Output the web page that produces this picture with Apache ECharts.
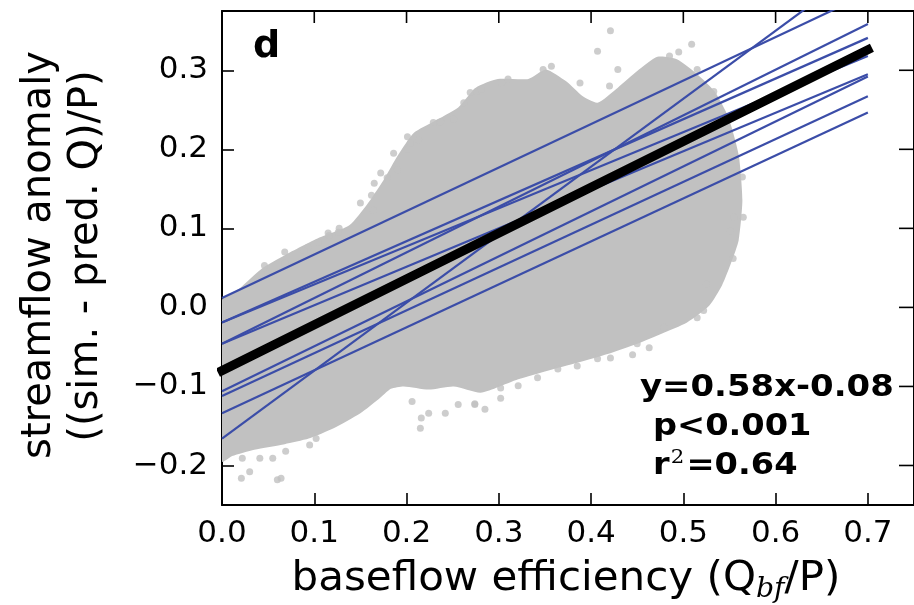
<!DOCTYPE html>
<html><head><meta charset="utf-8">
<script src="https://cdn.jsdelivr.net/npm/echarts@6/dist/echarts.min.js"></script>
<style>html,body{margin:0;padding:0;background:#fff;}#c{width:914px;height:605px;}</style>
</head><body><div id="c"></div>
<script>
// ---- data ----
const xTickValues = [0, 0.1, 0.2, 0.3, 0.4, 0.5, 0.6, 0.7];
const yTickValues = [-0.2, -0.1, 0.0, 0.1, 0.2, 0.3];
const xMin = 0, xMax = 0.75, yMin = -0.25, yMax = 0.375;

// outline of the dense grey point cloud (x, y in data units)
const cloudX = [0, 0.019, 0.043, 0.068, 0.105, 0.138, 0.157, 0.175, 0.191, 0.208, 0.229, 0.256, 0.275, 0.299, 0.332, 0.351, 0.373, 0.391, 0.407, 0.429, 0.450, 0.472, 0.493, 0.515, 0.534, 0.549, 0.560, 0.564, 0.560, 0.552, 0.542, 0.528, 0.504, 0.477, 0.450, 0.418, 0.385, 0.353, 0.321, 0.299, 0.280, 0.251, 0.224, 0.197, 0.183, 0.170, 0.150, 0.121, 0.094, 0.068, 0.035, 0.011, 0];
const cloudY = [0.009, 0.024, 0.049, 0.066, 0.088, 0.104, 0.130, 0.161, 0.193, 0.221, 0.235, 0.253, 0.278, 0.289, 0.289, 0.301, 0.286, 0.267, 0.259, 0.278, 0.299, 0.317, 0.314, 0.295, 0.273, 0.240, 0.193, 0.136, 0.085, 0.057, 0.028, 0.002, -0.019, -0.033, -0.046, -0.059, -0.070, -0.080, -0.091, -0.101, -0.108, -0.100, -0.104, -0.100, -0.103, -0.116, -0.134, -0.153, -0.166, -0.173, -0.180, -0.188, -0.195];

// individual grey points around the edge of the cloud
const dotX = [0.046,0.068,0.116,0.127,0.164,0.162,0.179,0.190,0.202,0.213,0.235,0.186,0.201,0.204,0.229,0.237,0.251,0.262,0.269,0.276,0.165,0.172,0.150,0.115,0.126,0.093,0.104,0.068,0.089,0.050,
  0.421,0.407,0.429,0.420,0.388,0.348,0.357,0.303,0.310,0.281,0.509,0.495,0.485,0.515,0.533,
  0.551,0.564,0.555,0.565,0.551,0.554,0.525,0.522,0.515,0.479,0.463,0.450,0.445,0.421,0.407,0.385,0.364,0.342,0.321,0.302,0.302,0.285,0.274,
  0.206,0.216,0.224,0.215,0.242,0.256,0.274,0.095,0.102,0.069,0.055,0.041,0.030,0.021,0.060,0.064,0.022];
const dotY = [0.053,0.070,0.091,0.100,0.123,0.142,0.164,0.174,0.200,0.212,0.234,0.195,0.216,0.208,0.234,0.235,0.238,0.259,0.272,0.273,0.157,0.170,0.132,0.094,0.095,0.076,0.082,0.056,0.072,0.043,
  0.350,0.324,0.301,0.280,0.284,0.301,0.305,0.284,0.289,0.276,0.333,0.323,0.318,0.301,0.273,
  0.170,0.165,0.114,0.114,0.097,0.062,0.030,-0.004,-0.013,-0.025,-0.051,-0.046,-0.060,-0.064,-0.065,-0.074,-0.078,-0.089,-0.099,-0.102,-0.115,-0.129,-0.122,
  -0.119,-0.140,-0.134,-0.153,-0.134,-0.123,-0.123,-0.174,-0.166,-0.182,-0.191,-0.191,-0.208,-0.216,-0.218,-0.216,-0.191];

// individual regressions (blue): value at x=0 and at x=0.7
const lineX = [0, 0.7];
const blueStartY = [0.012, -0.166, -0.046, -0.019, -0.106, -0.112, -0.134, -0.019, -0.046];
const blueEndY   = [0.397, 0.436, 0.3585, 0.341, 0.292, 0.267, 0.2465, 0.318, 0.295];

// overall fit (black): y = 0.58x - 0.08
const fitY = [-0.08, 0.326];

// ---- chart ----
const FONT = 'DejaVu Sans';
const chart = echarts.init(document.getElementById('c'), null, {renderer: 'canvas'});

function fmt(v) {
  const s = Math.abs(v).toFixed(1);
  return v < -1e-9 ? '\u2212' + s : s;
}

const series = [];
series.push({
  type: 'custom', xAxisIndex: 0, yAxisIndex: 0, silent: true, clip: true, z: 1,
  data: [[0, 0]],
  renderItem: function (params, api) {
    const pts = cloudX.map((x, i) => api.coord([x, cloudY[i]]));
    return {type: 'polygon', shape: {points: pts, smooth: 0.2}, style: {fill: '#c1c1c1'}};
  }
});
series.push({
  type: 'scatter', xAxisIndex: 0, yAxisIndex: 0, silent: true, z: 2,
  symbol: 'circle', symbolSize: 7,
  itemStyle: {color: '#c1c1c1'},
  data: dotX.map((x, i) => [x, dotY[i]])
});
blueStartY.forEach((y0, i) => {
  series.push({
    type: 'line', xAxisIndex: 0, yAxisIndex: 0, silent: true, z: 3,
    symbol: 'none', clip: true,
    lineStyle: {color: '#3b4da8', width: 2.2},
    data: [[lineX[0], y0], [lineX[1], blueEndY[i]]]
  });
});
series.push({
  type: 'line', xAxisIndex: 0, yAxisIndex: 0, silent: true, z: 4,
  symbol: 'none', clip: true,
  lineStyle: {color: '#000', width: 9, cap: 'square'},
  data: [[lineX[0], fitY[0]], [lineX[1], fitY[1]]]
});
// mirrored ticks on the top and right frame edges, placed through the axis scales
series.push({
  type: 'custom', xAxisIndex: 0, yAxisIndex: 0, silent: true, clip: false, z: 5,
  encode: {x: 0, y: 1},
  data: xTickValues.map(v => [v, yMax]),
  renderItem: function (params, api) {
    const p = api.coord([api.value(0), api.value(1)]);
    return {type: 'line', shape: {x1: p[0], y1: p[1], x2: p[0], y2: p[1] + 12}, style: {stroke: '#000', lineWidth: 1.6}};
  }
});
series.push({
  type: 'custom', xAxisIndex: 0, yAxisIndex: 0, silent: true, clip: false, z: 5,
  encode: {x: 0, y: 1},
  data: yTickValues.map(v => [xMax, v]),
  renderItem: function (params, api) {
    const p = api.coord([api.value(0), api.value(1)]);
    return {type: 'line', shape: {x1: p[0], y1: p[1], x2: p[0] - 15, y2: p[1]}, style: {stroke: '#000', lineWidth: 1.6}};
  }
});

const option = {
  animation: false,
  backgroundColor: '#fff',
  grid: {left: 222, top: 11, width: 696, height: 494, containLabel: false},
  xAxis: [{
    type: 'value', position: 'bottom', min: xMin, max: xMax, interval: 0.1,
    axisLine: {show: true, onZero: false, lineStyle: {color: '#000', width: 2}},
    axisTick: {show: true, inside: true, length: 12, lineStyle: {color: '#000', width: 1.6}},
    splitLine: {show: false},
    axisLabel: {fontFamily: FONT, fontSize: 31, color: '#000', margin: 13, showMaxLabel: false,
      formatter: v => fmt(v)}
  }, {
    type: 'value', position: 'top', min: xMin, max: xMax, interval: 0.1,
    axisLine: {show: true, onZero: false, lineStyle: {color: '#000', width: 2}},
    axisTick: {show: false}, splitLine: {show: false}, axisLabel: {show: false}
  }],
  yAxis: [{
    type: 'value', position: 'left', min: yMin, max: yMax, splitNumber: 6,
    axisLine: {show: true, onZero: false, lineStyle: {color: '#000', width: 2}},
    axisTick: {show: true, inside: true, length: 12, lineStyle: {color: '#000', width: 1.6}},
    splitLine: {show: false},
    axisLabel: {fontFamily: FONT, fontSize: 31, color: '#000', margin: 14,
      showMinLabel: false, showMaxLabel: false,
      formatter: v => (yTickValues.some(t => Math.abs(t - v) < 1e-6) ? fmt(v) : '')}
  }, {
    type: 'value', position: 'right', min: yMin, max: yMax, splitNumber: 6,
    axisLine: {show: true, onZero: false, lineStyle: {color: '#000', width: 2}},
    axisTick: {show: false}, splitLine: {show: false}, axisLabel: {show: false}
  }],
  series: series,
  graphic: [
    {type: 'text', z: 10, style: {text: 'd', x: 253, y: 47, font: 'bold 38px "DejaVu Sans"', fill: '#000', textAlign: 'left', textVerticalAlign: 'middle'}},
    {type: 'text', z: 10, x: 640, y: 388, scaleX: 1.13, style: {text: 'y=0.58x-0.08', x: 0, y: 0, font: 'bold 30px "DejaVu Sans"', fill: '#000', textAlign: 'left', textVerticalAlign: 'middle'}},
    {type: 'text', z: 10, x: 653, y: 427, scaleX: 1.12, style: {text: 'p<0.001', x: 0, y: 0, font: 'bold 30px "DejaVu Sans"', fill: '#000', textAlign: 'left', textVerticalAlign: 'middle'}},
    {type: 'text', z: 10, x: 653, y: 466, scaleX: 1.12, style: {
      text: '{m|r}{s|2}{m|=0.64}', x: 0, y: 0, textAlign: 'left', textVerticalAlign: 'middle',
      rich: {
        m: {fontFamily: FONT, fontWeight: 'bold', fontSize: 30, color: '#000', lineHeight: 34, verticalAlign: 'middle'},
        s: {fontFamily: 'DejaVu Serif', fontSize: 19, color: '#000', lineHeight: 34, verticalAlign: 'top', padding: [0, 2, 0, 1]}
      }}},
    {type: 'text', z: 10, x: 566, y: 580, scaleX: 1.05, style: {
      text: '{m|baseflow efficiency (Q}{s|bf}{m|/P)}', x: 0, y: 0, textAlign: 'center', textVerticalAlign: 'middle',
      rich: {
        m: {fontFamily: FONT, fontSize: 40, color: '#000', lineHeight: 46, verticalAlign: 'middle'},
        s: {fontFamily: 'DejaVu Serif', fontStyle: 'italic', fontSize: 27, color: '#000', lineHeight: 26, verticalAlign: 'bottom'}
      }}},
    {type: 'text', z: 10, rotation: Math.PI / 2, x: 40, y: 255, style: {
      text: 'streamflow anomaly', x: 0, y: 0, font: '40px "DejaVu Sans"', fill: '#000', textAlign: 'center', textVerticalAlign: 'middle'}},
    {type: 'text', z: 10, rotation: Math.PI / 2, x: 87, y: 256, style: {
      text: '((sim. - pred. Q)/P)', x: 0, y: 0, font: '40px "DejaVu Sans"', fill: '#000', textAlign: 'center', textVerticalAlign: 'middle'}}
  ]
};
chart.setOption(option);
</script>
</body></html>
